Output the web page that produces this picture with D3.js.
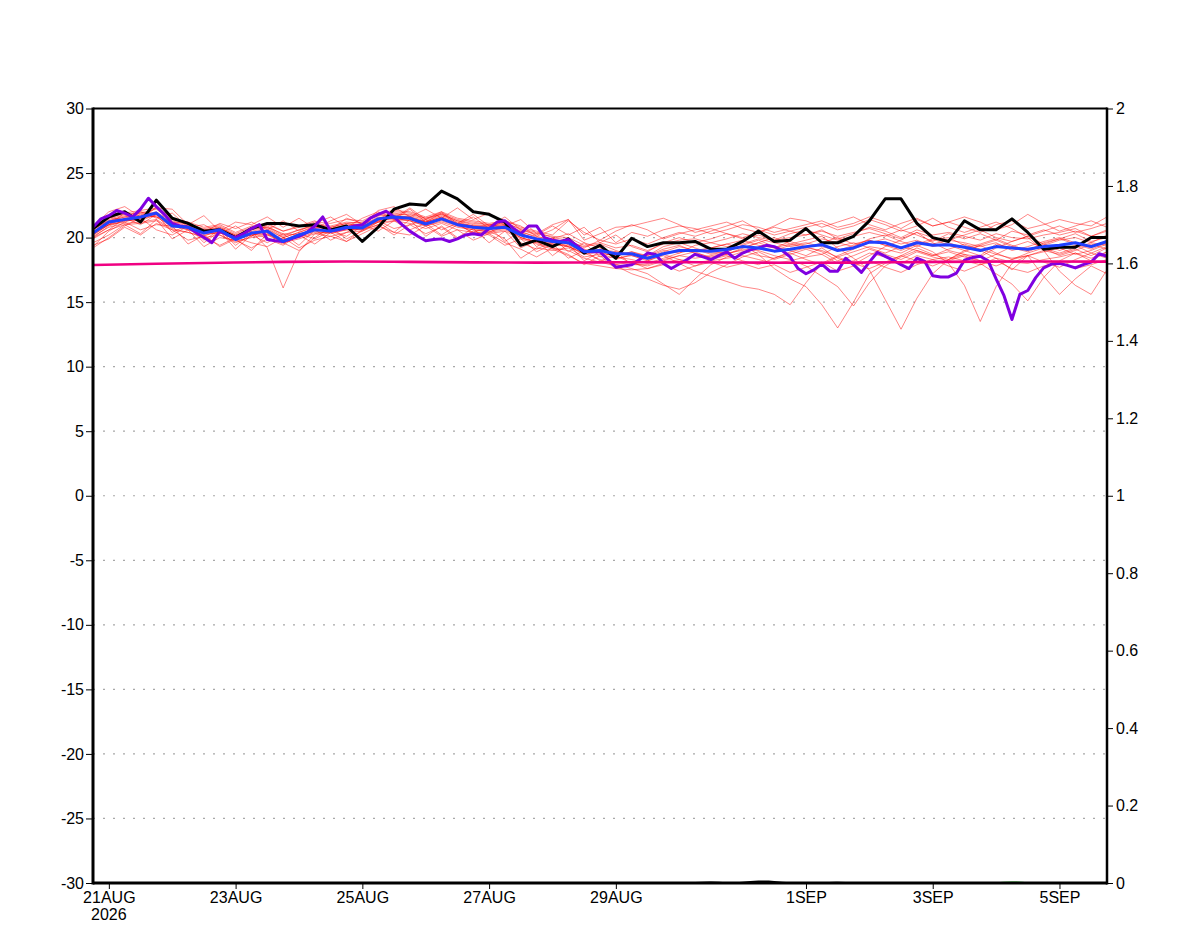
<!DOCTYPE html>
<html>
<head>
<meta charset="utf-8">
<script src="https://cdn.jsdelivr.net/npm/d3@7/dist/d3.min.js"></script>
<style>
body{margin:0;background:#fff}
svg{display:block}
text{font-family:"Liberation Sans",Arial,sans-serif;font-size:16px;fill:#000}
</style>
</head>
<body>
<div id="chart"></div>
<script>
// time base : 20AUG2026 18Z, 6-hourly unless noted
var startTime = Date.UTC(2026, 7, 20, 18);
var endTime = Date.UTC(2026, 8, 5, 18);

var xTickDates = [Date.UTC(2026,7,21), Date.UTC(2026,7,23), Date.UTC(2026,7,25), Date.UTC(2026,7,27),
                  Date.UTC(2026,7,29), Date.UTC(2026,8,1), Date.UTC(2026,8,3), Date.UTC(2026,8,5)];
var xTickLabels = ["21AUG", "23AUG", "25AUG", "27AUG", "29AUG", "1SEP", "3SEP", "5SEP"];
var yearLabel = "2026";
var leftTicks = [-30, -25, -20, -15, -10, -5, 0, 5, 10, 15, 20, 25, 30];
var rightTicks = [0, 0.2, 0.4, 0.6, 0.8, 1, 1.2, 1.4, 1.6, 1.8, 2];
var gridValues = [-25, -20, -15, -10, -5, 0, 5, 10, 15, 20, 25];

// ensemble members (6-hourly)
var members = [
 [20.6,21.4,21.8,21.9,22.2, 21.3,21.0,20.7,20.9,20.3, 20.8,20.9,20.2,20.6,21.0, 20.9,21.2,21.1,21.8,22.0, 21.9,21.5,21.9,21.4,21.2, 21.0,21.2,20.6,20.3,20.1, 20.0,19.4,19.6,19.2,19.4, 19.0,19.5,19.8,19.9,19.6, 19.9,20.3,20.0,19.8,20.0, 20.2,20.6,19.9,20.3,20.8, 20.5,20.0,20.6,20.2,20.4, 20.1,19.8,20.3,20.0,19.9, 20.2,20.4,20.7,20.1,20.6],
 [19.3,20.5,21.2,20.6,21.0, 20.9,19.5,20.2,19.3,19.9, 19.0,20.3,19.6,19.0,20.0, 20.8,19.9,20.5,21.2,20.4, 21.4,20.1,20.9,20.0,20.7, 19.6,20.5,19.2,19.8,18.6, 19.5,18.2,18.9,17.9,18.1, 17.6,18.0,18.3,18.1,18.2, 18.4,18.6,18.3,18.0,18.2, 18.5,18.7,18.0,18.2,18.8, 18.5,18.0,18.6,18.3,18.5, 18.2,17.9,18.4,18.1,18.0, 18.3,18.5,18.8,18.2,18.9],
 [20.2,21.0,21.3,21.5,21.7, 21.0,20.6,20.2,20.4,19.8, 20.5,19.2,16.1,18.9,20.3, 20.4,20.7,20.9,21.4,21.7, 21.6,21.3,21.7,21.2,20.9, 20.8,20.9,20.0,19.6,19.9, 20.3,19.6,19.2,18.6,18.9, 18.6,19.3,19.6,19.2,18.8, 18.9,19.4,19.8,19.3,19.0, 18.6,19.2,18.4,17.9,18.6, 19.3,19.8,20.4,19.6,19.0, 18.7,18.5,19.2,19.7,20.1, 19.5,19.0,19.4,18.8,19.3],
 [20.9,22.0,22.4,21.6,22.3, 22.2,21.0,21.7,20.5,21.2, 21.0,21.6,20.8,21.5,20.7, 21.3,21.8,21.0,22.1,22.4, 21.6,22.2,21.5,22.3,21.4, 21.9,20.9,21.4,20.3,21.0, 21.4,20.2,20.8,19.6,20.4, 20.1,20.6,20.9,20.7,20.3, 20.6,21.0,20.8,20.4,20.7, 21.0,21.3,20.8,21.1,21.6, 21.2,20.7,21.4,20.9,21.2, 20.8,20.4,21.0,21.3,20.7, 21.0,21.4,21.1,20.9,21.6],
 [20.4,21.0,21.5,21.8,21.6, 20.8,20.9,20.5,20.2,19.6, 20.1,20.6,20.0,20.4,20.9, 20.6,20.9,21.0,21.6,21.4, 21.3,20.9,21.2,20.8,20.6, 20.4,20.6,20.0,19.7,19.5, 19.3,18.7,18.9,18.5,18.3, 18.0,18.4,18.8,19.1,18.7, 18.9,19.4,18.7,17.6,16.8, 16.2,14.8,13.0,15.0,17.2, 18.0,18.6,19.2,18.7,18.3, 18.9,19.4,18.8,18.3,18.8, 19.2,18.6,19.0,19.5,19.1],
 [20.0,20.9,21.3,21.4,21.9, 21.1,20.7,20.3,20.8,20.1, 20.3,20.4,19.6,20.1,20.5, 20.3,20.6,20.7,21.3,21.5, 21.4,21.0,21.4,21.1,20.9, 20.9,21.0,20.3,19.9,19.6, 19.4,18.9,19.1,18.9,18.7, 18.4,18.9,19.3,19.0,19.2, 19.5,19.8,19.4,19.2,19.5, 19.8,20.1,19.2,18.4,17.5, 15.2,12.9,15.3,17.2,18.3, 19.0,18.6,19.5,19.2,18.9, 19.4,19.8,20.0,19.6,20.2],
 [20.7,21.3,21.6,21.7,22.0, 21.2,21.1,20.6,20.7,20.2, 20.6,20.8,20.3,20.2,20.7, 20.8,21.1,20.9,21.5,21.9, 21.7,21.4,21.8,21.3,21.0, 20.9,21.0,20.5,20.0,19.9, 19.6,19.1,18.8,18.6,18.9, 18.5,19.0,18.8,19.4,19.6, 19.3,19.5,19.9,19.6,19.3, 19.5,19.9,19.6,19.3,19.9, 20.2,19.7,19.3,19.8,20.0, 19.4,19.0,18.4,17.5,18.6, 17.0,15.6,16.8,17.8,17.2],
 [19.2,20.0,20.9,21.5,20.6, 20.2,20.9,19.6,20.5,19.1, 20.2,19.6,20.3,19.4,20.6, 19.8,20.4,21.0,20.5,21.3, 20.6,21.1,20.2,21.0,20.4, 20.8,19.7,20.5,19.3,20.0, 18.9,19.6,18.5,18.9,17.9, 17.9,18.3,18.6,18.4,18.6, 18.8,19.0,18.6,18.4,18.9, 19.2,19.0,18.5,18.9,19.3, 19.1,18.8,19.4,18.9,18.0, 16.3,13.5,16.2,18.0,18.6, 18.9,19.2,18.7,19.0,19.5],
 [20.3,21.1,21.4,21.3,21.8, 20.9,20.6,20.4,20.5,20.0, 20.2,20.3,19.8,20.3,20.6, 20.5,20.8,20.8,21.2,21.3, 21.5,21.2,21.5,21.0,20.8, 20.6,20.8,20.4,20.1,19.8, 19.7,19.3,19.5,19.0,18.6, 18.2,18.6,18.0,17.4,17.0, 16.6,16.2,16.0,15.6,14.8, 16.5,18.0,18.6,19.1,19.6, 19.9,19.5,19.8,19.3,19.6, 19.2,19.5,19.9,19.4,19.0, 19.6,19.9,20.3,19.7,20.0],
 [20.1,20.8,21.1,21.2,21.4, 20.7,20.4,20.1,20.6,19.9, 20.4,20.2,19.9,20.0,20.4, 20.4,20.6,20.6,21.2,21.6, 21.5,21.2,21.6,21.0,20.7, 20.5,19.9,18.4,19.2,19.0, 19.2,18.5,18.7,18.4,18.6, 18.3,18.7,19.1,18.8,18.5, 18.7,19.1,19.0,18.6,18.3, 17.8,17.0,16.2,14.7,16.5, 17.8,18.5,19.0,18.6,18.9, 18.5,18.2,18.7,18.4,18.6, 19.0,18.7,19.1,18.6,19.2],
 [20.5,21.2,21.6,21.9,21.6, 20.9,20.8,20.4,20.6,20.1, 20.5,20.7,20.0,20.4,20.8, 20.7,21.0,21.0,21.5,21.7, 21.6,21.2,21.6,21.1,20.9, 20.8,20.9,20.3,19.9,19.5, 19.3,18.8,18.3,17.9,17.6, 17.2,16.4,15.6,16.8,17.9, 18.5,18.9,19.2,19.0,19.4, 19.6,19.3,19.0,19.4,19.8, 19.4,19.2,19.7,19.5,19.8, 19.6,19.3,19.6,19.0,19.3, 19.7,20.0,19.6,19.2,19.8],
 [20.8,21.5,21.9,22.1,22.3, 21.4,21.2,20.8,21.0,20.4, 20.9,21.1,20.5,20.8,21.2, 21.1,21.4,21.3,21.9,22.1, 22.0,21.6,22.0,21.5,21.3, 21.1,21.3,20.8,20.5,20.2, 21.3,20.4,19.8,19.5,19.9, 19.5,20.0,20.4,20.1,20.5, 20.9,21.3,20.6,20.2,20.5, 20.8,21.1,20.6,20.9,21.4, 21.0,20.5,20.9,21.5,20.8, 20.4,20.8,21.2,20.7,20.0, 19.0,17.4,16.3,15.6,17.5],
 [19.6,20.2,21.0,20.3,21.4, 19.9,20.6,19.3,20.0,19.8, 19.2,19.9,19.4,20.2,19.5, 20.4,19.7,20.6,21.0,20.2, 21.0,20.3,20.8,19.9,20.5, 20.2,19.4,19.9,18.9,19.5, 18.4,19.0,18.2,18.6,18.0, 17.8,18.2,18.6,18.9,18.4, 18.7,19.2,19.6,19.2,19.7, 19.3,18.9,18.2,18.6,19.1, 18.7,18.3,18.9,18.5,18.2, 18.6,18.0,17.2,16.4,15.1, 16.9,18.2,18.8,18.4,18.9],
 [20.6,21.3,21.7,22.0,21.8, 21.2,20.9,20.6,20.8,20.2, 20.7,20.8,20.1,20.6,20.9, 20.8,21.1,21.2,21.7,21.8, 21.8,21.5,21.8,21.3,21.1, 21.0,21.1,20.7,20.4,20.0, 19.8,19.2,19.8,20.5,21.0, 20.6,19.9,20.3,20.6,20.9, 21.2,20.7,20.4,20.9,21.5, 21.3,20.8,21.2,21.6,21.0, 20.6,21.1,21.5,20.9,21.2, 21.6,21.2,20.6,21.0,21.8, 21.1,20.5,20.9,21.3,20.8],
 [19.9,20.6,21.0,21.1,21.3, 20.6,20.4,20.0,20.2,19.7, 20.0,20.2,19.6,19.9,20.3, 20.1,20.4,20.5,21.0,21.3, 21.1,20.7,21.1,20.6,20.4, 20.3,20.5,19.9,19.5,19.1, 18.6,18.0,17.8,17.6,17.5, 17.6,17.9,17.4,17.8,18.1, 17.7,18.0,17.6,17.9,17.3, 17.7,18.1,17.4,17.8,18.2, 17.7,17.3,17.9,18.3,17.8, 17.4,17.9,18.2,17.6,17.3, 17.8,18.1,17.6,17.9,18.3],
 [20.3,21.0,21.2,21.6,21.9, 21.0,20.8,20.3,20.4,19.9, 20.2,20.5,19.7,20.1,20.6, 20.5,20.7,20.6,21.3,21.5, 21.3,20.9,21.3,20.9,20.6, 20.5,20.7,20.0,19.6,19.2, 19.0,18.4,18.1,17.8,17.2, 16.8,16.3,16.0,16.5,17.3, 17.9,18.5,18.9,18.3,18.7, 19.1,18.7,19.3,19.6,19.2, 18.8,19.3,19.0,18.6,19.1, 19.5,19.1,18.7,19.3,19.7, 19.2,18.8,19.2,19.6,19.4],
 [20.6,21.6,21.3,22.0,21.5, 21.9,20.8,21.0,20.3,20.9, 20.1,21.0,20.5,20.9,21.3, 20.6,21.5,21.1,21.9,21.4, 22.2,21.2,21.9,21.0,21.6, 20.7,21.3,20.9,20.1,20.6, 21.4,19.8,20.3,20.8,20.9, 21.2,21.5,21.0,20.4,20.7, 20.3,20.0,20.4,20.8,20.5, 20.2,20.5,20.1,20.4,20.7, 20.3,19.9,20.4,20.0,19.8, 20.2,20.6,20.0,19.7,20.1, 20.5,20.9,20.4,20.7,21.1],
 [19.4,19.9,20.8,20.2,21.1, 20.6,19.8,20.1,19.4,20.0, 19.6,19.3,20.0,19.2,19.8, 20.1,19.7,20.3,20.9,20.4, 20.2,20.9,20.1,20.6,19.8, 20.3,19.6,19.1,18.5,19.2, 18.7,17.9,18.6,17.6,17.9, 18.2,18.7,18.3,17.8,18.3, 18.6,18.2,17.9,18.4,18.8, 18.3,17.9,18.5,18.0,17.6, 18.1,18.6,18.2,17.8,18.3, 18.7,18.2,17.8,18.3,18.6, 18.1,17.7,18.3,18.8,18.4],
 [20.2,21.0,21.9,21.3,22.4, 21.5,21.2,20.4,21.1,20.7, 21.2,20.6,21.3,20.5,21.1, 21.6,20.8,21.5,22.0,21.5, 22.3,21.4,22.0,21.1,21.8, 20.9,21.6,20.6,20.2,20.9, 20.2,20.8,19.6,20.2,19.3, 18.9,19.6,20.0,19.6,19.9, 20.3,19.9,20.2,19.8,20.3, 20.6,20.2,19.8,20.1,20.4, 20.1,20.6,20.2,19.7,20.3, 19.9,20.3,19.8,20.5,20.2, 20.6,20.2,20.5,20.1,20.5],
 [20.0,20.6,21.5,21.0,21.8, 20.4,21.0,19.8,20.6,19.4, 20.3,20.0,19.5,20.3,19.9, 20.5,20.1,20.9,21.3,20.7, 21.0,21.4,20.6,21.1,20.3, 20.4,20.9,19.6,19.1,19.7, 19.3,18.8,19.4,18.3,18.7, 18.6,19.1,19.4,18.9,19.2, 19.5,19.2,19.6,20.0,19.5, 19.2,19.6,20.0,19.5,19.8, 19.4,19.0,19.5,19.9,19.4, 19.0,19.4,19.8,19.3,19.0, 19.5,19.9,19.5,19.1,19.6]
];

// black line (6-hourly)
var observed = [20.7,21.6,22.0,21.2,22.9, 21.5,21.1,20.5,20.6,20.0, 20.7,21.1,21.1,20.9,21.0, 20.6,20.9,19.7,20.8,22.2,
 22.6,22.5,23.6,23.0,22.0, 21.8,21.2,19.4,19.8,19.3, 19.9,18.8,19.4,18.4,19.95, 19.3,19.6,19.6,19.7,19.1,
 19.1,19.7,20.5,19.7,19.8, 20.7,19.6,19.6,20.1,21.3, 23.0,23.0,21.1,20.0,19.7, 21.3,20.6,20.6,21.45,20.4,
 19.1,19.25,19.25,20.0,20.0];

// blue line, ensemble mean (6-hourly)
var ensMean = [20.35,21.2,21.4,21.6,21.9, 20.9,20.8,20.35,20.6,19.85, 20.35,20.5,19.7,20.2,20.6, 20.5,20.8,20.75,21.45,21.6,
 21.5,21.05,21.45,21.0,20.8, 20.7,20.8,20.2,19.9,19.7, 19.6,18.9,19.0,18.75,18.75, 18.4,18.75,19.0,19.0,18.95,
 19.07,19.3,19.2,18.95,19.1, 19.3,19.45,19.0,19.2,19.65, 19.6,19.2,19.6,19.4,19.45, 19.25,19.0,19.3,19.2,19.1,
 19.3,19.4,19.6,19.3,19.7];

// purple line (3-hourly)
var hiresRun = [20.8,21.45,21.7,22.1,21.9, 21.6,22.2,23.05,22.4,21.8, 21.1,20.9,20.8,20.4,20.0, 19.6,20.5,20.2,20.0,20.3,
 20.7,21.0,19.85,19.75,19.7, 19.9,20.1,20.4,20.9,21.6, 20.5,20.6,20.75,20.9,21.0, 21.5,21.8,22.05,21.6,21.0,
 20.5,20.1,19.75,19.85,19.9, 19.7,19.9,20.2,20.3,20.2, 20.7,21.2,21.3,20.75,20.3, 20.9,20.9,20.0,19.8,19.7,
 19.85,19.4,18.95,18.9,18.9, 18.3,17.7,17.8,17.9,18.3, 18.8,18.7,18.0,17.6,17.95, 18.3,18.7,18.5,18.3,18.6,
 18.9,18.4,18.8,19.05,19.2, 19.4,19.3,19.0,18.5,17.6, 17.2,17.5,17.95,17.4,17.4, 18.4,17.9,17.3,18.1,18.85,
 18.55,18.25,17.9,17.6,18.4, 18.15,17.05,16.95,16.95,17.25, 18.25,18.45,18.55,18.2,16.8, 15.5,13.65,15.6,15.9,16.9,
 17.65,17.95,18.0,17.85,17.65, 17.9,18.1,18.75,18.55];

// pink line, climatology (daily)
var climatology = [17.88,17.97,18.05,18.12,18.15,18.12,18.08,18.06,18.08,18.1,18.07,18.05,18.06,18.1,18.14,18.15,18.14];

// bottom bars on right axis (6-hourly)
var precipBlack = [0,0,0,0,0, 0,0,0,0,0, 0,0,0,0,0, 0,0.001,0.001,0,0, 0,0,0,0,0, 0.001,0.001,0,0,0,
 0,0,0,0,0, 0.001,0,0.001,0.002,0.005, 0.001,0.003,0.007,0.006,0.001, 0,0.002,0.004,0.001,0,
 0,0,0,0.001,0, 0,0.001,0,0,0, 0,0,0,0.001,0];
var precipGreen = [0,0,0,0,0, 0,0,0,0,0, 0,0,0,0,0, 0,0,0,0,0, 0,0,0,0,0, 0,0,0,0,0,
 0,0,0,0,0, 0,0,0,0,0, 0,0,0,0,0, 0,0,0,0,0, 0,0,0,0,0, 0,0,0.002,0.005,0.002, 0,0,0,0,0];

var W = 1200, H = 927;
var plotLeft = 93, plotRight = 1107, plotTop = 108.5, plotBottom = 883;

var svg = d3.select("#chart").append("svg").attr("width", W).attr("height", H);

var xScale = d3.scaleUtc().domain([new Date(startTime), new Date(endTime)]).range([plotLeft, plotRight]);
var yScale = d3.scaleLinear().domain([-30, 30]).range([plotBottom, plotTop]);
var y2Scale = d3.scaleLinear().domain([0, 2]).range([plotBottom, plotTop]);

function timeAt(i, stepHours) { return new Date(startTime + i * stepHours * 3600000); }

// grid
svg.selectAll(".grid").data(gridValues).enter().append("line")
  .attr("x1", plotLeft).attr("x2", plotRight)
  .attr("y1", function(d){ return yScale(d); }).attr("y2", function(d){ return yScale(d); })
  .attr("stroke", "#a8a8a8").attr("stroke-width", 1.2).attr("stroke-dasharray", "2,8");

// bottom areas (right axis)
var area6 = d3.area().x(function(d, i){ return xScale(timeAt(i, 6)); })
  .y0(y2Scale(0)).y1(function(d){ return y2Scale(d); }).curve(d3.curveBasis);
svg.append("path").datum(precipGreen).attr("d", area6).attr("fill", "#22cc22");
svg.append("path").datum(precipBlack).attr("d", area6).attr("fill", "#000");

// ensemble members
var line6 = d3.line().x(function(d, i){ return xScale(timeAt(i, 6)); }).y(function(d){ return yScale(d); });
svg.selectAll(".member").data(members).enter().append("path")
  .attr("d", line6).attr("fill", "none")
  .attr("stroke", "#ff0000").attr("stroke-opacity", 0.6).attr("stroke-width", 0.8);

var line3 = d3.line().x(function(d, i){ return xScale(timeAt(i, 3)); }).y(function(d){ return yScale(d); });
var line24 = d3.line().x(function(d, i){ return xScale(timeAt(i, 24)); }).y(function(d){ return yScale(d); }).curve(d3.curveMonotoneX);

svg.append("path").datum(observed).attr("d", line6).attr("fill", "none")
  .attr("stroke", "#000").attr("stroke-width", 3).attr("stroke-linejoin", "round");
svg.append("path").datum(hiresRun).attr("d", line3).attr("fill", "none")
  .attr("stroke", "#8000e0").attr("stroke-width", 3).attr("stroke-linejoin", "round");
svg.append("path").datum(ensMean).attr("d", line6).attr("fill", "none")
  .attr("stroke", "#2040ff").attr("stroke-width", 3).attr("stroke-linejoin", "round");
svg.append("path").datum(climatology).attr("d", line24).attr("fill", "none")
  .attr("stroke", "#f00082").attr("stroke-width", 2.6);

// axes
var leftAxis = d3.axisLeft(yScale).tickValues(leftTicks).tickSize(7).tickPadding(2)
  .tickFormat(function(d){ return String(d); });
var gL = svg.append("g").attr("transform", "translate(" + plotLeft + ",0)").call(leftAxis);

var rightAxis = d3.axisRight(y2Scale).tickValues(rightTicks).tickSize(6).tickPadding(3)
  .tickFormat(function(d){ return String(+d.toFixed(1)); });
var gR = svg.append("g").attr("transform", "translate(" + plotRight + ",0)").call(rightAxis);

var bottomAxis = d3.axisBottom(xScale).tickValues(xTickDates.map(function(t){ return new Date(t); }))
  .tickSize(6).tickPadding(3)
  .tickFormat(function(d, i){ return xTickLabels[i]; });
var gB = svg.append("g").attr("transform", "translate(0," + plotBottom + ")").call(bottomAxis);

[gL, gR, gB].forEach(function(g){
  g.select(".domain").remove();
  g.selectAll("line").attr("stroke", "#000").attr("stroke-width", 1);
  g.selectAll("text").attr("font-size", 16).attr("font-family", "\"Liberation Sans\",Arial,sans-serif").attr("fill", "#000");
});

gB.append("text").attr("x", xScale(new Date(xTickDates[0]))).attr("y", 37)
  .attr("text-anchor", "middle").attr("font-size", 16).attr("fill", "#000").text(yearLabel);

// frame
svg.append("line").attr("x1", plotLeft).attr("x2", plotRight).attr("y1", plotTop).attr("y2", plotTop).attr("stroke", "#000").attr("stroke-width", 2);
svg.append("line").attr("x1", plotLeft).attr("x2", plotRight).attr("y1", plotBottom).attr("y2", plotBottom).attr("stroke", "#000").attr("stroke-width", 3);
svg.append("line").attr("x1", plotLeft).attr("x2", plotLeft).attr("y1", plotTop - 1).attr("y2", plotBottom + 1.5).attr("stroke", "#000").attr("stroke-width", 3);
svg.append("line").attr("x1", plotRight).attr("x2", plotRight).attr("y1", plotTop - 1).attr("y2", plotBottom + 1.5).attr("stroke", "#000").attr("stroke-width", 2.5);
</script>
</body>
</html>
